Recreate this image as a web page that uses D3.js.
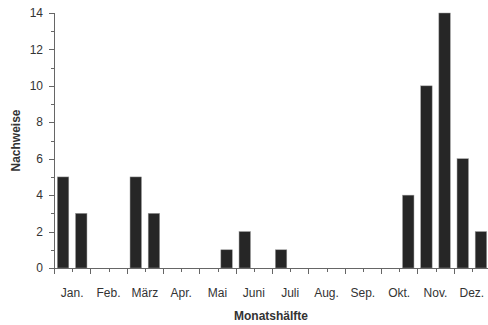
<!DOCTYPE html>
<html lang="de">
<head>
<meta charset="utf-8">
<title>Nachweise je Monatshälfte</title>
<script src="https://d3js.org/d3.v7.min.js"></script>
<style>
  body { margin: 0; padding: 0; background: #fff; overflow: hidden; }
  text { font-family: "Liberation Sans", Arial, sans-serif; fill: #333; }
</style>
</head>
<body>
<svg id="chart"></svg>
<script>
  const months = ["Jan.", "Feb.", "März", "Apr.", "Mai", "Juni", "Juli", "Aug.", "Sep.", "Okt.", "Nov.", "Dez."];
  const halves = months.flatMap(m => [m + " 1", m + " 2"]);
  const counts = [5, 3, 0, 0, 5, 3, 0, 0, 0, 1, 2, 0, 1, 0, 0, 0, 0, 0, 0, 4, 10, 14, 6, 2];
  const yTicks = [0, 2, 4, 6, 8, 10, 12, 14];

  const width = 488, height = 325;
  const margin = { left: 54, right: -2, top: 13, bottom: 57 };

  const svg = d3.select("#chart").attr("width", width).attr("height", height);

  const x = d3.scaleBand()
    .domain(halves)
    .range([margin.left, width - margin.right])
    .paddingInner(0.37)
    .paddingOuter(0.185);

  const xm = d3.scaleBand()
    .domain(months)
    .range([margin.left, width - margin.right]);

  const y = d3.scaleLinear()
    .domain([0, 14])
    .range([height - margin.bottom, margin.top]);

  const axisColor = "#666";
  const y0 = y(0);

  // bars
  svg.append("g")
    .selectAll("rect")
    .data(counts)
    .join("rect")
    .attr("x", (d, i) => x(halves[i]))
    .attr("width", x.bandwidth())
    .attr("y", d => y(d))
    .attr("height", d => y0 - y(d))
    .attr("fill", "#262626")
    .attr("stroke", "#9a9a9a")
    .attr("stroke-width", 0.5);

  // y axis
  const gy = svg.append("g");
  gy.append("line")
    .attr("x1", margin.left + 0.5).attr("x2", margin.left + 0.5)
    .attr("y1", y(14)).attr("y2", y0)
    .attr("stroke", axisColor);
  gy.selectAll("line.minor")
    .data(d3.range(1, 14, 2))
    .join("line")
    .attr("class", "minor")
    .attr("x1", margin.left - 3).attr("x2", margin.left)
    .attr("y1", d => Math.round(y(d)) + 0.5).attr("y2", d => Math.round(y(d)) + 0.5)
    .attr("stroke", axisColor);
  gy.selectAll("line.major")
    .data(yTicks)
    .join("line")
    .attr("class", "major")
    .attr("x1", margin.left - 5).attr("x2", margin.left)
    .attr("y1", d => Math.round(y(d)) + 0.5).attr("y2", d => Math.round(y(d)) + 0.5)
    .attr("stroke", axisColor);
  gy.selectAll("text")
    .data(yTicks)
    .join("text")
    .attr("x", margin.left - 11)
    .attr("y", d => y(d))
    .attr("dy", "0.35em")
    .attr("text-anchor", "end")
    .attr("font-size", 12)
    .text(d => d);

  // x axis
  const gx = svg.append("g");
  gx.append("line")
    .attr("x1", margin.left).attr("x2", width)
    .attr("y1", y0 + 0.5).attr("y2", y0 + 0.5)
    .attr("stroke", axisColor);
  gx.selectAll("line.major")
    .data(months)
    .join("line")
    .attr("class", "major")
    .attr("x1", d => Math.round(xm(d)) + 0.5).attr("x2", d => Math.round(xm(d)) + 0.5)
    .attr("y1", y0).attr("y2", y0 + 6)
    .attr("stroke", axisColor);
  gx.selectAll("line.minor")
    .data(months)
    .join("line")
    .attr("class", "minor")
    .attr("x1", d => Math.round(xm(d) + xm.bandwidth() / 2) + 0.5)
    .attr("x2", d => Math.round(xm(d) + xm.bandwidth() / 2) + 0.5)
    .attr("y1", y0).attr("y2", y0 + 4)
    .attr("stroke", axisColor);
  gx.selectAll("text")
    .data(months)
    .join("text")
    .attr("x", d => xm(d) + xm.bandwidth() / 2)
    .attr("y", y0 + 29)
    .attr("text-anchor", "middle")
    .attr("font-size", 12)
    .text(d => d);

  // titles
  svg.append("text")
    .attr("x", 271)
    .attr("y", 320)
    .attr("text-anchor", "middle")
    .attr("font-size", 12)
    .attr("font-weight", "bold")
    .attr("fill", "#222")
    .text("Monatshälfte");

  svg.append("text")
    .attr("transform", `translate(20,${(y(14) + y0) / 2}) rotate(-90)`)
    .attr("text-anchor", "middle")
    .attr("font-size", 12)
    .attr("font-weight", "bold")
    .attr("fill", "#222")
    .text("Nachweise");
</script>
</body>
</html>
